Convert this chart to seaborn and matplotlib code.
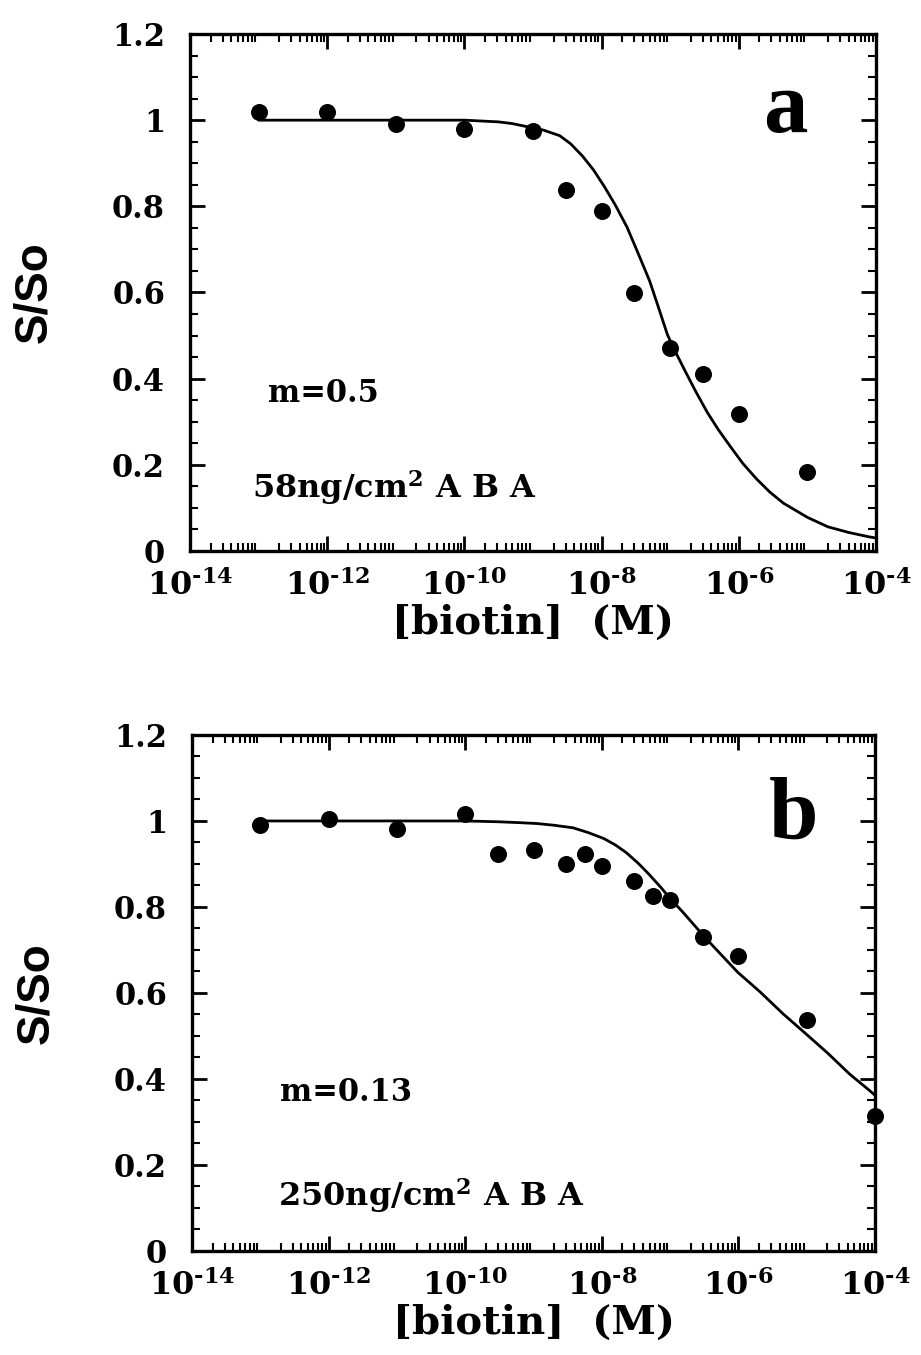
import numpy as np
import pandas as pd
import matplotlib
matplotlib.use("Agg")
import matplotlib.pyplot as plt
import matplotlib.ticker as mticker
import seaborn as sns

# data
# panel a: 58 ng/cm2 ABA, m=0.5
conc_a = [1e-13, 1e-12, 1e-11, 1e-10, 1e-9, 3e-9, 1e-8, 3e-8, 1e-7, 3e-7, 1e-6, 1e-5]
ratio_a = [1.02, 1.02, 0.99, 0.98, 0.975, 0.837, 0.788, 0.598, 0.471, 0.41, 0.317, 0.184]
fit_logx_a = [-13, -12, -11, -10, -9.5, -9.3, -9.06, -8.85, -8.61, -8.45, -8.28, -8.12,
              -7.96, -7.80, -7.63, -7.47, -7.30, -7.17, -7.04, -6.91, -6.78, -6.62,
              -6.46, -6.30, -6.13, -5.94, -5.74, -5.55, -5.35, -5.0, -4.70, -4.4, -4.11, -4.0]
fit_y_a = [1.0, 1.0, 1.0, 1.0, 0.996, 0.992, 0.984, 0.977, 0.964, 0.945, 0.917, 0.885,
           0.846, 0.803, 0.752, 0.692, 0.627, 0.565, 0.502, 0.458, 0.417, 0.368,
           0.322, 0.282, 0.244, 0.203, 0.167, 0.137, 0.111, 0.078, 0.056, 0.043, 0.033, 0.03]

# panel b: 250 ng/cm2 ABA, m=0.13
conc_b = [1e-13, 1e-12, 1e-11, 1e-10, 3e-10, 1e-9, 3e-9, 5.6e-9, 1e-8, 3e-8, 5.6e-8,
          1e-7, 3e-7, 1e-6, 1e-5, 1e-4]
ratio_b = [0.99, 1.005, 0.982, 1.017, 0.922, 0.932, 0.901, 0.923, 0.895, 0.86, 0.826,
           0.816, 0.731, 0.687, 0.538, 0.314]
fit_logx_b = [-13, -12, -11, -10, -9.5, -9.2, -8.95, -8.7, -8.42, -8.2, -7.97, -7.8,
              -7.64, -7.47, -7.31, -7.15, -6.99, -6.82, -6.66, -6.5, -6.33, -6.17,
              -6.01, -5.68, -5.35, -5.02, -4.70, -4.37, -4.08, -4.0]
fit_y_b = [1.0, 1.0, 1.0, 1.0, 0.998, 0.996, 0.994, 0.99, 0.984, 0.973, 0.959, 0.944,
           0.926, 0.902, 0.876, 0.848, 0.818, 0.789, 0.760, 0.731, 0.702, 0.675,
           0.648, 0.602, 0.552, 0.506, 0.461, 0.411, 0.373, 0.362]

xtick_vals = [1e-14, 1e-12, 1e-10, 1e-8, 1e-6, 1e-4]
xtick_labels = [r'$10^{\text{-14}}$', r'$10^{\text{-12}}$', r'$10^{\text{-10}}$',
                r'$10^{\text{-8}}$', r'$10^{\text{-6}}$', r'$10^{\text{-4}}$']
ytick_vals = [0, 0.2, 0.4, 0.6, 0.8, 1.0, 1.2]
ytick_labels = ['0', '0.2', '0.4', '0.6', '0.8', '1', '1.2']

panels = [
    dict(conc=conc_a, ratio=ratio_a, fx=fit_logx_a, fy=fit_y_a, letter='a',
         letter_pos=(0.835, 0.81), m_text='m=0.5', m_pos=(0.114, 0.288),
         aba_text=r'58ng/cm$^2$ A B A', aba_pos=(0.090, 0.1025)),
    dict(conc=conc_b, ratio=ratio_b, fx=fit_logx_b, fy=fit_y_b, letter='b',
         letter_pos=(0.845, 0.80), m_text='m=0.13', m_pos=(0.129, 0.291),
         aba_text=r'250ng/cm$^2$ A B A', aba_pos=(0.126, 0.087)),
]

sns.set_theme(style="ticks")
plt.rcParams['font.family'] = ['DejaVu Serif']
plt.rcParams['font.weight'] = 'bold'
plt.rcParams['text.color'] = 'black'
plt.rcParams['axes.labelcolor'] = 'black'
plt.rcParams['xtick.color'] = 'black'
plt.rcParams['ytick.color'] = 'black'
plt.rcParams['mathtext.fontset'] = 'custom'
plt.rcParams['mathtext.rm'] = 'DejaVu Serif:bold'
plt.rcParams['mathtext.bf'] = 'DejaVu Serif:bold'
plt.rcParams['mathtext.it'] = 'DejaVu Serif:bold'
plt.rcParams['mathtext.default'] = 'rm'

fig = plt.figure(figsize=(9.21, 13.55), dpi=100)
fig.patch.set_facecolor('white')

boxes = [[0.2063, 0.5934, 0.7448, 0.3815], [0.2085, 0.0768, 0.7416, 0.3808]]

for box, p in zip(boxes, panels):
    ax = fig.add_axes(box)
    ax.set_facecolor('white')
    fit = pd.DataFrame({'x': 10.0 ** np.array(p['fx']), 'y': p['fy']})
    pts = pd.DataFrame({'x': p['conc'], 'y': p['ratio']})
    sns.lineplot(data=fit, x='x', y='y', ax=ax, color='black', linewidth=2)
    sns.scatterplot(data=pts, x='x', y='y', ax=ax, color='black', s=150,
                    edgecolor='black', linewidth=0, zorder=5, clip_on=False)
    ax.set_xscale('log')
    ax.set_xlim(1e-14, 1e-4)
    ax.set_ylim(0, 1.2)

    ax.xaxis.set_major_locator(mticker.FixedLocator(xtick_vals))
    ax.xaxis.set_major_formatter(mticker.FixedFormatter(xtick_labels))
    ax.xaxis.set_minor_locator(mticker.LogLocator(base=10, subs=np.arange(2, 10), numticks=30))
    ax.xaxis.set_minor_formatter(mticker.NullFormatter())
    ax.yaxis.set_major_locator(mticker.FixedLocator(ytick_vals))
    ax.yaxis.set_major_formatter(mticker.FixedFormatter(ytick_labels))
    ax.yaxis.set_minor_locator(mticker.MultipleLocator(0.05))

    ax.tick_params(which='both', direction='in', top=True, right=True, color='black')
    ax.tick_params(which='major', length=11, width=2)
    ax.tick_params(which='minor', length=6, width=1.5)
    ax.tick_params(axis='y', which='major', pad=18, labelsize=22)
    ax.tick_params(axis='x', which='major', pad=14, labelsize=23)
    for lab in ax.get_xticklabels() + ax.get_yticklabels():
        lab.set_fontweight('bold')
    for sp in ax.spines.values():
        sp.set_linewidth(2.4)
        sp.set_color('black')

    ax.set_xlabel('[biotin]  (M)', fontsize=29, fontweight='bold', labelpad=1)
    ax.set_ylabel('S/So', fontsize=33, fontweight='bold', family='Liberation Sans',
                  labelpad=40)

    ax.text(p['letter_pos'][0], p['letter_pos'][1], p['letter'], transform=ax.transAxes,
            fontsize=64, fontweight='bold', family='Liberation Serif',
            ha='left', va='baseline')
    ax.text(p['m_pos'][0], p['m_pos'][1], p['m_text'], transform=ax.transAxes,
            fontsize=22, fontweight='bold', ha='left', va='baseline')
    ax.text(p['aba_pos'][0], p['aba_pos'][1], p['aba_text'], transform=ax.transAxes,
            fontsize=23, fontweight='bold', ha='left', va='baseline')

fig.savefig('out.png', dpi=100, facecolor='white')
